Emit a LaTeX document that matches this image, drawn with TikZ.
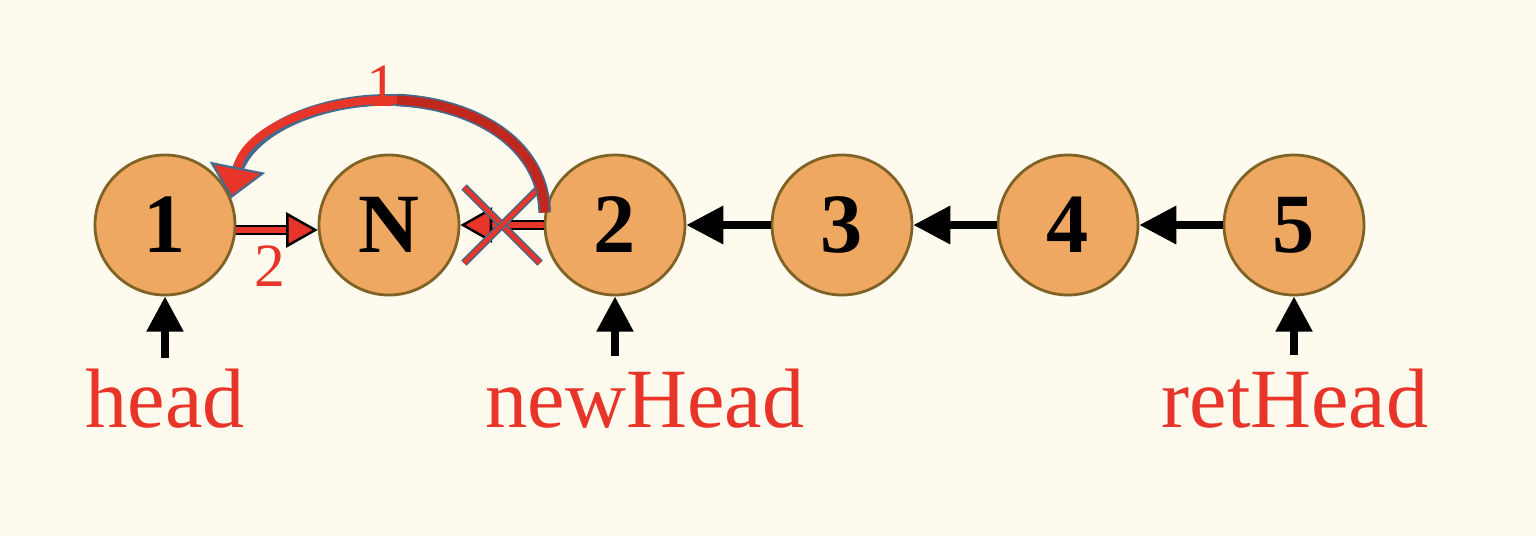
\documentclass[tikz,border=0pt]{standalone}
\usepackage{fontspec}
\setmainfont{Liberation Serif}
\usetikzlibrary{arrows.meta,calc}

\definecolor{bgcream}{HTML}{FFFAEE}
\definecolor{nodefill}{HTML}{EEA862}
\definecolor{nodeline}{HTML}{7F6326}
\definecolor{labelred}{HTML}{E8352A}
\definecolor{darkred}{HTML}{C0281E}
\definecolor{edgeblue}{HTML}{466A8C}

\begin{document}
\begin{tikzpicture}[
    listnode/.style={circle, draw=nodeline, line width=0.8pt, fill=nodefill,
      minimum size=1.4cm, inner sep=0pt, font=\fontsize{24}{28}\selectfont\bfseries},
    nextarrow/.style={line width=2pt, -{Triangle[length=10.5pt,width=10.5pt]}},
    pointer/.style={line width=2.2pt, -{Triangle[length=10pt,width=10pt]}},
    redlink/.style={draw=labelred, line width=1.5pt,
      preaction={draw=black, line width=2.6pt, arrows=-, shorten >=6pt},
      -{Triangle[length=9pt,width=10pt,color=black,fill=labelred,line width=0.7pt]}},
    bendband/.style={draw=darkred, line width=2.6pt,
      preaction={draw=edgeblue, line width=3.6pt, arrows=-}},
    bendtip/.style={draw=labelred, line width=2.3pt,
      preaction={draw=edgeblue, line width=3.3pt, arrows=-, shorten >=6pt},
      -{Triangle[length=9pt,width=16pt,color=edgeblue,fill=labelred,line width=0.6pt]}},
    crossmark/.style={draw=labelred, line width=1.3pt, preaction={draw=edgeblue, line width=2.2pt}},
    varname/.style={text=labelred, anchor=base, font=\fontsize{24}{28}\selectfont},
    steplabel/.style={text=labelred, font=\fontsize{17.5}{20}\selectfont}
  ]
      \fill [bgcream] (0,0) rectangle (15.36,5.36);

      \node [listnode] (n1) at (1.65,3.11) {1};
      \node [listnode] (nN) at (3.89,3.11) {N};
      \node [listnode] (n2) at (6.15,3.11) {2};
      \node [listnode] (n3) at (8.42,3.11) {3};
      \node [listnode] (n4) at (10.68,3.11) {4};
      \node [listnode] (n5) at (12.94,3.11) {5};

      \draw [nextarrow] (n5) -- (n4);
      \draw [nextarrow] (n4) -- (n3);
      \draw [nextarrow] (n3) -- (n2);

      \node [varname] (head) at (1.65,1.09) {head};
      \node [varname] (newhead) at (6.45,1.09) {newHead};
      \node [varname] (rethead) at (12.95,1.09) {retHead};

      \coordinate (headptr) at (1.65,1.78);
      \coordinate (newptr) at (6.15,1.80);
      \coordinate (retptr) at (12.94,1.81);
      \draw [pointer] (headptr) -- (n1);
      \draw [pointer] (newptr) -- (n2);
      \draw [pointer] (retptr) -- (n5);

      % old link 2 -> N, crossed out
      \draw [redlink] (n2.west) -- (nN.east);
      \coordinate (cut) at ($(nN.east)!0.5!(n2.west)$);
      \draw [crossmark] ($(cut)+(-0.38,0.38)$) -- ($(cut)+(0.38,-0.38)$);
      \draw [crossmark] ($(cut)+(-0.38,-0.38)$) -- ($(cut)+(0.38,0.38)$);

      % step 1: 2 points back to 1
      \coordinate (arctop) at (3.97,5.36-1.00);
      \draw [bendband] (n2.170) .. controls (5.43,5.36-1.415) and (4.715,5.36-1.0325) .. (arctop);
      \draw [bendtip] (arctop) .. controls (3.225,5.36-0.9725) and (2.45,5.36-1.295) .. (n1.22);
      \node [steplabel] (step1) at (3.82,4.50) {1};

      % step 2: 1 points to N
      \draw [redlink] (n1.-4) -- (nN.184);
      \node [steplabel] (step2) at (2.70,2.70) {2};
\end{tikzpicture}
\end{document}
